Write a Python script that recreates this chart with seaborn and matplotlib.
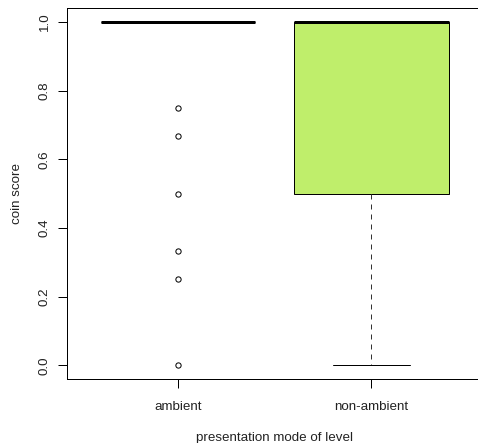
import pandas as pd
import numpy as np
import seaborn as sns
import matplotlib.pyplot as plt

# coin scores
ambient = [1.0] * 34 + [0.75, 0.667, 0.5, 0.333, 0.25, 0.0]
non_ambient = [0.0, 0.25, 0.5, 0.5, 0.5, 0.5, 0.5, 0.5, 0.75] + [1.0] * 11
modes = ["ambient", "non-ambient"]
box_colors = ["white", "#BFEE6B"]
y_ticks = [0.0, 0.2, 0.4, 0.6, 0.8, 1.0]

df = pd.DataFrame({
    "mode": ["ambient"] * len(ambient) + ["non-ambient"] * len(non_ambient),
    "score": ambient + non_ambient,
})

sns.set_style("white")
plt.rcParams['font.family'] = ['Liberation Sans', 'DejaVu Sans']
fs = 9.6

fig = plt.figure(figsize=(4.78, 4.43), dpi=100)
ax = fig.add_axes([0.1395, 0.1445, 1.0094 - 0.1395, 0.9813 - 0.1445])

px = 0.72
sns.boxplot(data=df, x="mode", y="score", hue="mode", order=modes,
            palette=box_colors, saturation=1, legend=False, width=0.8, ax=ax,
            linecolor="black", linewidth=px,
            whiskerprops=dict(linestyle=(0, (5, 5)), linewidth=px, color="#333333"),
            capprops=dict(linewidth=px, color="black"),
            medianprops=dict(linewidth=3 * px, color="black", solid_capstyle="butt"),
            flierprops=dict(marker="o", markersize=3.8, markerfacecolor="none",
                            markeredgecolor="black", markeredgewidth=px),
            capwidths=0.4)

ax.set_xlim(-0.575, 1.575)
ax.set_ylim(-0.04, 1.04)
ax.set_yticks(y_ticks)
ax.set_yticklabels([f"{v:.1f}" for v in y_ticks], rotation=90, va="center")
ax.tick_params(axis="both", direction="out", length=6.5, width=px,
               color="black", labelsize=fs, labelcolor="#222222", left=True, bottom=True)
ax.tick_params(axis="y", pad=5)
ax.tick_params(axis="x", pad=9)
for s in ax.spines.values():
    s.set_visible(True)
    s.set_color("black")
    s.set_linewidth(px)

ax.set_xlabel("presentation mode of level", fontsize=fs, color="#222222", labelpad=14)
ax.set_ylabel("coin score", fontsize=fs, color="#222222", labelpad=11)

fig.savefig("out.png", dpi=100)
